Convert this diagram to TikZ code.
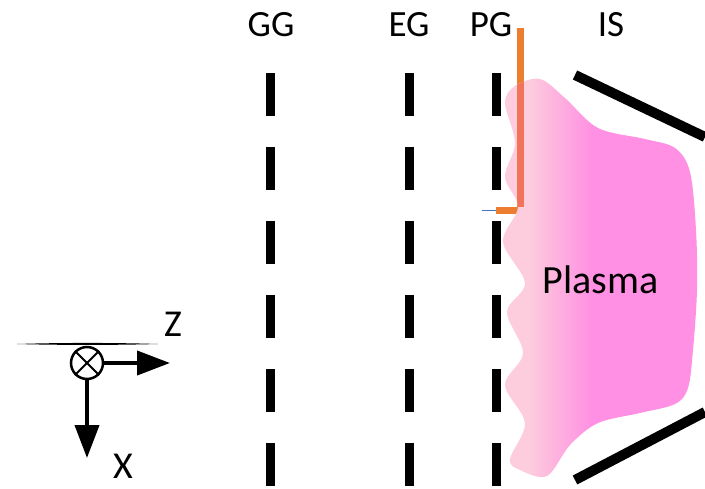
\documentclass[tikz,border=0pt]{standalone}
\usepackage{fontspec}
\setmainfont{Carlito}
\usetikzlibrary{arrows.meta}

\definecolor{probeorange}{HTML}{ED7D31}
\definecolor{probeinside}{HTML}{F0735A}
\definecolor{wireblue}{HTML}{4472C4}
\definecolor{plasmalight}{HTML}{FDCCDD}
\definecolor{plasmadeep}{HTML}{FF90E3}

% light pink on the grid side, deep pink towards the source
\pgfdeclarehorizontalshading{plasmashade}{100bp}{%
  color(0bp)=(plasmalight); color(25bp)=(plasmalight); color(32bp)=(plasmalight);
  color(48bp)=(plasmadeep); color(100bp)=(plasmadeep)}

\tikzset{
  grid/.style={line width=9pt, dash pattern=on 43pt off 31pt},
  wall/.style={line width=10pt},
  probe/.style={line width=7pt, color=probeorange},
  label/.style={anchor=base, font=\fontsize{37}{40}\selectfont, inner sep=0pt},
  axis/.style={line width=4pt, -{Triangle[length=33pt, width=24pt]}},
}

\begin{document}
\begin{tikzpicture}[x=1pt, y=-1pt]
\useasboundingbox (0,0) rectangle (705,488);

% grid labels
\node[label] (gg) at (271,36) {GG};
\node[label] (eg) at (409,36) {EG};
\node[label] (pg) at (491,36) {PG};
\node[label] (is) at (611,36) {IS};

% the three grids
\draw[grid] (270,73) -- (270,486);
\draw[grid] (409,73) -- (409,486);
\draw[grid] (496,73) -- (496,486);

% ion source walls
\draw[wall] (575,75) -- (705,137);
\draw[wall] (575,480) -- (705,412);

% probe: thin lead, foot and shaft
\draw[wireblue, line width=1.5pt] (482,210.5) -- (496,210.5);
\draw[probe] (496,210.5) -- (523,210.5);
\draw[probe] (520,28) -- (520,207);

% plasma body
\def\plasmapath{plot[smooth cycle, tension=0.55] coordinates {
  (540,79) (565,98) (598,128) (645,139) (675,148) (690,172) (696,230)
  (697,290) (693,350) (688,388) (675,404) (640,413) (598,423) (570,445)
  (547,476) (520,470) (510,459) (525,423) (505,385) (523,353) (507,312)
  (525,283) (503,242) (518,207) (505,177) (515,143) (505,103) (515,86)}}
\shade[shading=plasmashade] \plasmapath;
\begin{scope}
  \clip \plasmapath;
  \draw[line width=7pt, probeinside] (520,28) -- (520,207);
\end{scope}
\node[label, font=\fontsize{40}{44}\selectfont] (plasma) at (600.5,293) {Plasma};

% coordinate axes
\fill (17,344) .. controls (60,342.6) and (115,342.6) .. (158,344)
      .. controls (115,345.2) and (60,345.2) .. (17,344) -- cycle;
\node[draw, circle, line width=2.5pt, minimum size=32pt, inner sep=0pt] (o) at (87,363) {};
\draw[line width=2pt] (o.north west) -- (o.south east);
\draw[line width=2pt] (o.north east) -- (o.south west);
\coordinate (zend) at (170,363);
\coordinate (xend) at (87,458);
\draw[axis] (o.east) -- (zend);
\draw[axis] (o.south) -- (xend);
\node[label, font=\fontsize{38}{40}\selectfont] (zl) at (173,336) {Z};
\node[label, font=\fontsize{38}{40}\selectfont] (xl) at (123,478) {X};
\end{tikzpicture}
\end{document}
